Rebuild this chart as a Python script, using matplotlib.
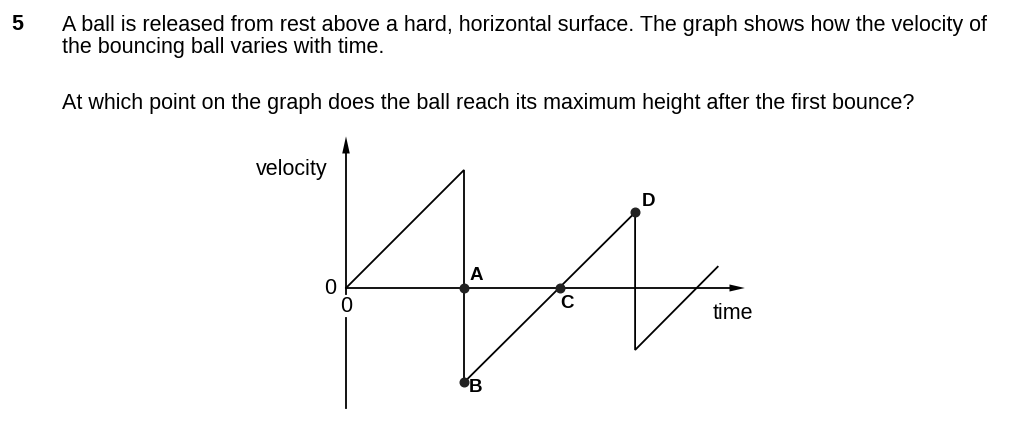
import matplotlib.pyplot as plt

plt.rcParams['font.family'] = ['Liberation Sans', 'DejaVu Sans']

# velocity-time graph of the bouncing ball (1 unit = time to first bounce)
t_line = [0.0, 1.0, 1.0, 2.45, 2.45, 3.15]
v_line = [0.0, 1.0, -0.80, 0.64, -0.525, 0.18]

# labelled points
point_names = ["A", "B", "C", "D"]
point_t = [1.0, 1.0, 1.81, 2.45]
point_v = [0.0, -0.80, 0.0, 0.64]

question_no = "5"
question_lines = ["A ball is released from rest above a hard, horizontal surface. The graph shows how the velocity of",
                  "the bouncing ball varies with time."]
question_ask = "At which point on the graph does the ball reach its maximum height after the first bounce?"

W, H, DPI = 1024, 430, 100
ox, oy, scale = 346, 288, 118.0  # pixel position of origin, px per unit

fig = plt.figure(figsize=(W / DPI, H / DPI), dpi=DPI)
ax = fig.add_axes([0, 0, 1, 1])
ax.set_xlim(-ox / scale, (W - ox) / scale)
ax.set_ylim(-(H - oy) / scale, oy / scale)
ax.axis('off')

fs = 15.5
lw = 1.3
# axes
ax.plot([0, 0], [0, 1.18], color='black', lw=lw)
ax.plot([0, 0], [-0.25, -1.02], color='black', lw=lw)
ax.plot([0, 0], [0, -0.05], color='black', lw=lw)
ax.plot([0, 3.26], [0, 0], color='black', lw=lw)
ax.fill([-0.032, 0.032, 0.0], [1.14, 1.14, 1.285], color='black', lw=0)
ax.fill([3.25, 3.25, 3.38], [0.03, -0.03, 0.0], color='black', lw=0)

ax.plot(t_line, v_line, color='black', lw=lw, solid_joinstyle='miter')
ax.plot(point_t, point_v, 'o', color='#222222', markersize=6.2)

offsets = {"A": (0.05, 0.11), "B": (0.04, -0.04), "C": (0.06, -0.13), "D": (0.06, 0.09)}
for n, t, v in zip(point_names, point_t, point_v):
    dx, dy = offsets[n]
    ax.text(t + dx, v + dy, n, fontsize=13.5, fontweight='bold', ha='left' if n != "C" else 'center',
            va='center')

ax.text(-0.16, 1.0, "velocity", fontsize=fs, ha='right', va='center')
ax.text(-0.08, 0.0, "0", fontsize=fs, ha='right', va='center')
ax.text(0.0, -0.16, "0", fontsize=fs, ha='center', va='center')
ax.text(3.28, -0.215, "time", fontsize=fs, ha='center', va='center')

fig.text(17 / W, 1 - 25 / H, question_no, fontsize=fs, fontweight='bold', ha='center', va='center')
fig.text(62 / W, 1 - 25 / H, question_lines[0], fontsize=fs, ha='left', va='center')
fig.text(62 / W, 1 - 47 / H, question_lines[1], fontsize=fs, ha='left', va='center')
fig.text(62 / W, 1 - 103 / H, question_ask, fontsize=fs, ha='left', va='center')

fig.savefig('out.png', dpi=DPI, facecolor='white')
